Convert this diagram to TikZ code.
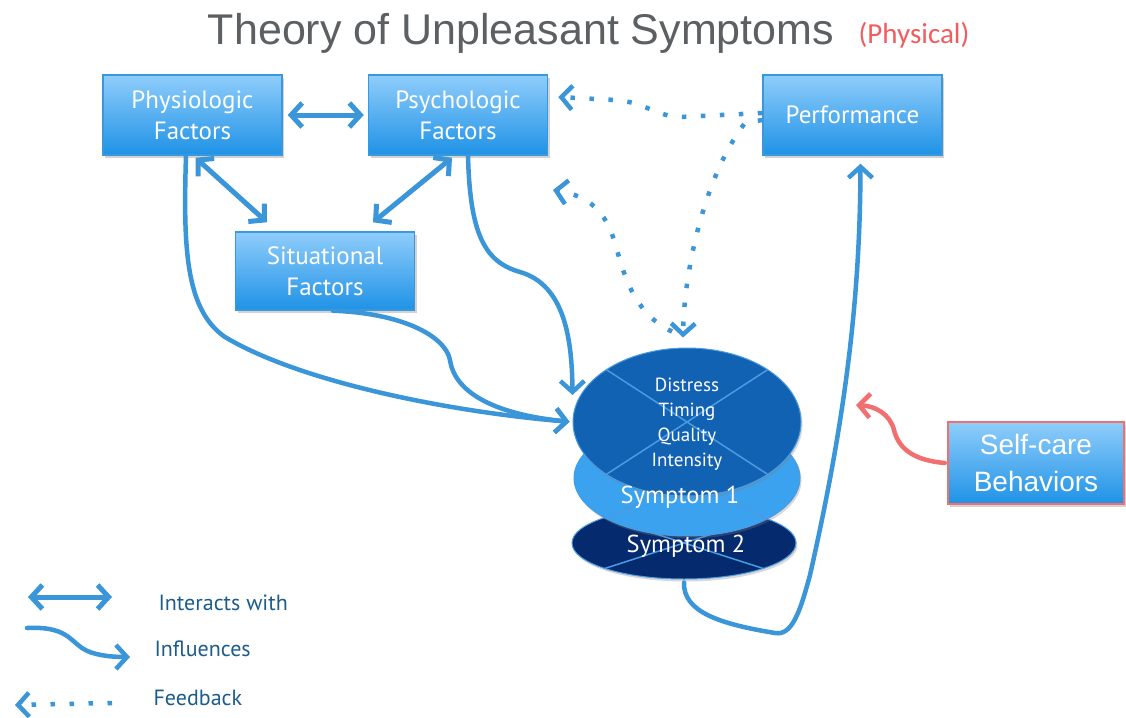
\documentclass[tikz,border=0pt]{standalone}
\usepackage{fontspec}
\setmainfont{Liberation Sans}
\newfontfamily\boxfont{PT Sans}
\newfontfamily\calfont{Carlito}
\usetikzlibrary{arrows.meta,shapes.geometric,shadows}

\definecolor{linkblue}{HTML}{3A96D8}
\definecolor{boxtop}{HTML}{8FCDFB}
\definecolor{boxbot}{HTML}{1F92E6}
\definecolor{boxedge}{HTML}{3A98DC}
\definecolor{titlegray}{HTML}{5C6063}
\definecolor{accentred}{HTML}{F25C5C}
\definecolor{carered}{HTML}{F26F6F}
\definecolor{legendblue}{HTML}{1D5D8C}
\definecolor{discdark}{HTML}{062A6E}
\definecolor{discmid}{HTML}{3AA2EE}
\definecolor{disctop}{HTML}{1262B4}
\definecolor{crossblue}{HTML}{4A9BE2}

\tikzset{
  barb/.tip={Straight Barb[length=11pt,width=24pt]},
  factor/.style={draw=boxedge, line width=1.5pt, top color=boxtop, bottom color=boxbot,
    text=white, align=center, inner sep=0pt, minimum width=179pt, minimum height=80pt,
    font=\boxfont\fontsize{25}{31}\selectfont,
    drop shadow={shadow xshift=2pt, shadow yshift=-3pt, opacity=0.35}},
  disc/.style={ellipse, draw=crossblue, line width=1pt, inner sep=0pt,
    drop shadow={shadow xshift=1.5pt, shadow yshift=-2.5pt, opacity=0.3},
    path picture={\draw[crossblue, line width=1.5pt]
      (path picture bounding box.north west) -- (path picture bounding box.south east)
      (path picture bounding box.south west) -- (path picture bounding box.north east);}},
  disctext/.style={text=white, align=center, font=\boxfont\fontsize{19}{25}\selectfont},
  symtext/.style={text=white, font=\boxfont\fontsize{24.5}{30}\selectfont},
  interacts/.style={draw=linkblue, line width=5pt, barb-barb},
  influences/.style={draw=linkblue, line width=4.5pt, line cap=round, -barb},
  feedback/.style={draw=linkblue, line width=4.5pt, dash pattern=on 4.5pt off 14.5pt, -barb},
  legendtext/.style={text=legendblue, anchor=west, font=\boxfont\fontsize{22}{26}\selectfont}
}

\begin{document}
\begin{tikzpicture}[x=1pt,y=-1pt]
\useasboundingbox[fill=white] (0,0) rectangle (1126,717);

% title
\node[text=titlegray, font=\fontsize{43}{50}\selectfont] (title) at (521,33) {Theory of Unpleasant Symptoms};
\node[text=accentred, font=\calfont\fontsize{29}{34}\selectfont] (subtitle) at (914,35) {(Physical)};

% factor boxes
\node[factor] (phys)  at (192.5,115) {Physiologic\\Factors};
\node[factor] (psych) at (458,115)   {Psychologic\\Factors};
\node[factor] (perf)  at (852.5,115) {Performance};
\node[factor, minimum height=78pt] (sit) at (325,271) {Situational\\Factors};
\node[factor, draw=carered, line width=2.5pt, minimum width=176pt, minimum height=82pt,
      font=\fontsize{28}{37}\selectfont] (self) at (1036,463) {Self-care\\Behaviors};

% stacked symptom discs
\node[disc, fill=discdark, minimum width=224pt, minimum height=72pt]  (sym2)   at (684,543) {};
\node[disc, fill=discmid,  minimum width=226pt, minimum height=116pt] (sym1)   at (687,478) {};
\node[disc, fill=disctop,  minimum width=228pt, minimum height=148pt] (dimtop) at (687,422) {};
\node[disctext] (dims) at (687,424) {Distress\\Timing\\Quality\\Intensity};
\node[symtext] (sym1lbl) at (680,497) {Symptom 1};
\node[symtext] (sym2lbl) at (686,546) {Symptom 2};

% interactions between factors
\draw[interacts] ([xshift=5pt]phys.east) -- ([xshift=-4pt]psych.west);
\draw[interacts] ([xshift=3pt,yshift=-2pt]phys.south) -- ([xshift=-58pt,yshift=9pt]sit.north);
\draw[interacts] ([xshift=-6pt,yshift=-2pt]psych.south) -- ([xshift=48pt,yshift=9pt]sit.north);

% influences on the symptom experience
\draw[influences, shorten >=3pt] ([xshift=-6.5pt]phys.south)
  .. controls (183,250) and (186,310) .. (225,337)
  .. controls (300,382) and (450,412) .. (dimtop.west);
\draw[influences, shorten >=3pt] ([xshift=8pt]sit.south)
  .. controls (400,313) and (445,335) .. (450,360)
  .. controls (455,395) and (500,415) .. (dimtop.west);
\draw[influences] ([xshift=10pt]psych.south)
  .. controls (470,235) and (485,262) .. (520,272)
  .. controls (565,285) and (572,340) .. ([yshift=27pt]dimtop.west);
\draw[influences] ([yshift=-3pt]sym2.south)
  .. controls (683,612) and (720,624) .. (775,633)
  .. controls (792,636) and (800,612) .. (810,575)
  .. controls (845,420) and (860,300) .. ([xshift=8pt,yshift=-8pt]perf.south);

% self-care behaviours
\coordinate (scTip) at (856,405);
\draw[influences, draw=carered] ([xshift=-2pt]self.west)
  .. controls (910,460) and (898,446) .. (894,430)
  .. controls (890,414) and (875,406) .. (scTip);

% feedback loops
\draw[feedback] ([yshift=2pt]perf.west) -- (680,117)
  .. controls (655,116) and (645,102) .. (615,100) -- ([xshift=10pt,yshift=18pt]psych.east);
\draw[feedback] ([yshift=-5pt]perf.west) -- (745,123)
  .. controls (705,175) and (684,270) .. ([xshift=-4pt,yshift=10pt]dimtop.north);
\coordinate (fbTip) at (553,190);
\draw[feedback] ([xshift=-15pt,yshift=16pt]dimtop.north)
  .. controls (630,312) and (622,265) .. (614,240)
  .. controls (605,212) and (590,196) .. (fbTip);

% legend
\coordinate (lgA1) at (28,597);  \coordinate (lgA2) at (112,597);
\coordinate (lgB1) at (27,628);  \coordinate (lgB2) at (130,657);
\coordinate (lgC1) at (112,703); \coordinate (lgC2) at (15,705);
\draw[interacts] (lgA1) -- (lgA2);
\draw[influences] (lgB1) .. controls (65,626) and (70,640) .. (82,648)
  .. controls (92,655) and (110,657) .. (lgB2);
\draw[feedback] (lgC1) -- (lgC2);
\node[legendtext] (lgA) at (155,603) {Interacts with};
\node[legendtext] (lgB) at (151,649) {Influences};
\node[legendtext] (lgC) at (150,698) {Feedback};
\end{tikzpicture}
\end{document}
